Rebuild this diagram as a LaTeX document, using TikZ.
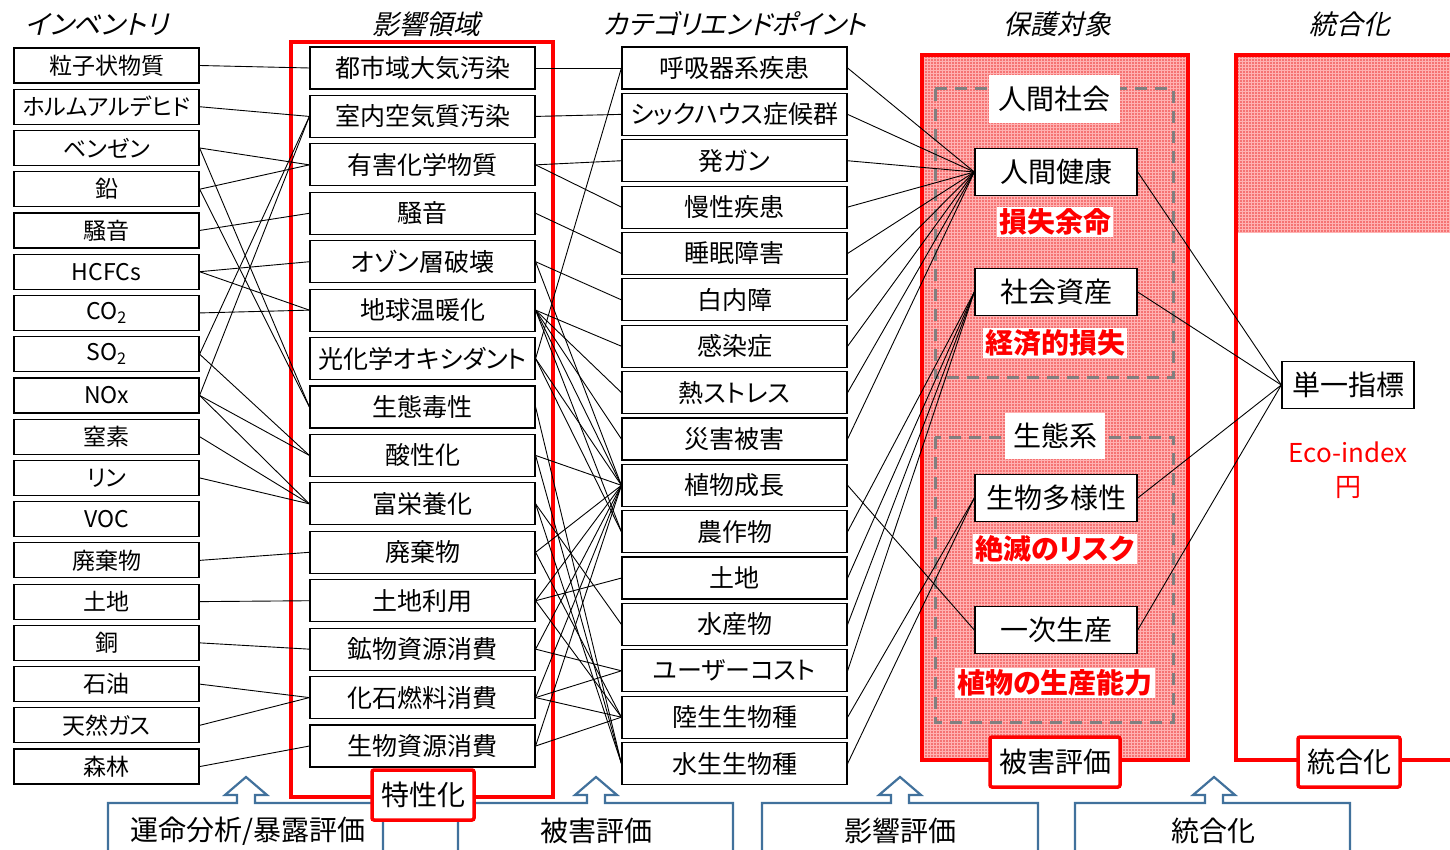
\documentclass[tikz,border=0pt]{standalone}
\usepackage{fontspec}
\setmainfont{Noto Sans CJK JP}[RawFeature=+palt]
\newfontfamily\jpit{Noto Sans CJK JP}[FakeSlant=0.22,RawFeature=+palt]
\usetikzlibrary{patterns}
\definecolor{frred}{RGB}{255,0,0}
\definecolor{blueline}{RGB}{65,113,156}
\definecolor{grpgray}{RGB}{128,128,128}
\definecolor{pinkfill}{RGB}{245,115,115}
\begin{document}
\begin{tikzpicture}[x=1pt,y=-1pt]
\tikzset{
 invbox/.style={draw=black, line width=1.2pt, fill=white, minimum width=185pt, minimum height=35pt, inner sep=0pt, font=\fontsize{23}{25}\selectfont},
 impbox/.style={draw=black, line width=1.2pt, fill=white, minimum width=225pt, minimum height=42pt, inner sep=0pt, font=\fontsize{25}{27}\selectfont},
 protbox/.style={draw=black, line width=1.4pt, fill=white, minimum width=162pt, minimum height=47pt, inner sep=0pt, font=\fontsize{28}{30}\selectfont},
 redlbl/.style={fill=white, text=frred, inner sep=2pt, font=\fontsize{28}{30}\selectfont\bfseries},
 grplbl/.style={fill=white, inner sep=0pt, font=\fontsize{28}{30}\selectfont},
 frlbl/.style={draw=frred, line width=3.5pt, fill=white, rounded corners=2pt, inner sep=0pt, minimum height=50pt, font=\fontsize{28}{30}\selectfont},
 conn/.style={line width=0.9pt, black},
 coltitle/.style={font=\jpit\fontsize{27}{29}\selectfont},
 grpbox/.style={draw=grpgray, line width=3pt, dash pattern=on 12pt off 8pt},
 blueshape/.style={draw=blueline, line width=2.2pt, fill=white},
 bluetext/.style={font=\fontsize{28}{30}\selectfont},
 frame/.style={draw=frred, line width=4pt},
}
\useasboundingbox (0,0) rectangle (1450,850);
\clip (0,0) rectangle (1450,850);
\fill[white] (0,0) rectangle (1450,850);

% titles
\node[coltitle] (t1) at (97,24) {インベントリ};
\node[coltitle] (t2) at (426,24) {影響領域};
\node[coltitle] (t3) at (735,24) {カテゴリエンドポイント};
\node[coltitle] (t4) at (1057,24) {保護対象};
\node[coltitle] (t5) at (1350,24) {統合化};

% frames
\draw[frame] (291,42) rectangle (553,797);
\fill[pinkfill] (922,55) rectangle (1188,760);
\fill[pattern=grid, pattern color=white!70!red] (922,55) rectangle (1188,760);
\draw[frame] (922,55) rectangle (1188,760);
\fill[pinkfill] (1236,55) rectangle (1460,233);
\fill[pattern=grid, pattern color=white!70!red] (1236,55) rectangle (1460,233);
\draw[frame] (1460,55) -- (1236,55) -- (1236,760) -- (1460,760);

% group boxes
\draw[grpbox] (935,89) rectangle (1173,377);
\draw[grpbox] (935,437) rectangle (1173,722);
\node[grplbl, minimum width=131pt, minimum height=48pt] (g1) at (1054,99) {人間社会};
\node[grplbl, minimum width=100pt, minimum height=46pt] (g2) at (1055,436) {生態系};

% inventory
\foreach \t [count=\i] in {粒子状物質,ホルムアルデヒド,ベンゼン,鉛,騒音,HCFCs,{CO\textsubscript{2}},{SO\textsubscript{2}},NOx,窒素,リン,VOC,廃棄物,土地,銅,石油,天然ガス,森林}
  \node[invbox] (v\i) at (106.5,{65.5+41.24*(\i-1)}) {\t};

% impact categories
\foreach \t [count=\i] in {都市域大気汚染,室内空気質汚染,有害化学物質,騒音,オゾン層破壊,地球温暖化,光化学オキシダント,生態毒性,酸性化,富栄養化,廃棄物,土地利用,鉱物資源消費,化石燃料消費,生物資源消費}
  \node[impbox] (i\i) at (422.5,{68+48.43*(\i-1)}) {\t};

% category endpoints
\foreach \t [count=\i] in {呼吸器系疾患,シックハウス症候群,発ガン,慢性疾患,睡眠障害,白内障,感染症,熱ストレス,災害被害,植物成長,農作物,土地,水産物,ユーザーコスト,陸生生物種,水生生物種}
  \node[impbox] (e\i) at (734.5,{68+46.37*(\i-1)}) {\t};

% protection targets
\node[protbox] (pH) at (1056,172) {人間健康};
\node[protbox] (pS) at (1056,292) {社会資産};
\node[protbox] (pB) at (1056,498) {生物多様性};
\node[protbox] (pP) at (1056,630) {一次生産};
\node[redlbl] (r1) at (1055,222) {損失余命};
\node[redlbl] (r2) at (1055,343) {経済的損失};
\node[redlbl] (r3) at (1055,549) {絶滅のリスク};
\node[redlbl] (r4) at (1055,683) {植物の生産能力};

% single index
\node[protbox, minimum width=132pt] (si) at (1348,385) {単一指標};
\node[text=frred, font=\fontsize{26}{28}\selectfont] (eco) at (1348,452) {Eco-index};
\node[text=frred, font=\fontsize{26}{28}\selectfont] (yen) at (1348,488) {円};

% connectors inventory -> impact
\foreach \a/\b in {1/1,2/2,3/3,3/8,4/3,4/8,5/4,6/5,6/6,7/6,8/2,8/9,9/2,9/9,9/10,10/10,11/10,13/11,14/12,15/13,16/14,17/14,18/15}
  \draw[conn] (v\a.east) -- (i\b.west);

% connectors impact -> endpoint
\foreach \a/\b in {1/1,2/2,3/3,3/4,4/5,5/6,5/10,6/7,6/8,6/9,6/10,6/11,7/1,7/10,7/11,8/16,9/10,9/16,10/13,10/16,11/10,11/15,12/10,12/12,12/15,13/10,13/14,14/10,14/14,14/15,15/10,15/15}
  \draw[conn] (i\a.east) -- (e\b.west);

% connectors endpoint -> protection
\foreach \a in {1,...,9} \draw[conn] (e\a.east) -- (pH.west);
\draw[conn] (e10.east) -- (pP.west);
\foreach \a in {11,...,14} \draw[conn] (e\a.east) -- (pS.west);
\foreach \a in {15,16} \draw[conn] (e\a.east) -- (pB.west);

% protection -> single index
\foreach \p in {pH,pS,pB,pP} \draw[conn] (\p.east) -- (si.west);

% bottom blue callouts
\foreach \L/\R/\ax in {108/383/246, 458/733/596, 762/1038/900, 1075/1350/1214}
  \draw[blueshape] (\L,862) -- (\L,803) -- (\ax-9,803) -- (\ax-9,795) -- (\ax-21,795) -- (\ax,777) -- (\ax+21,795) -- (\ax+9,795) -- (\ax+9,803) -- (\R,803) -- (\R,862);
\node[bluetext] (b1) at (248,831) {運命分析/暴露評価};
\node[bluetext] (b2) at (596,831) {被害評価};
\node[bluetext] (b3) at (900,831) {影響評価};
\node[bluetext] (b4) at (1213,831) {統合化};

% frame labels
\node[frlbl, minimum width=102pt] (l1) at (423,795) {特性化};
\node[frlbl, minimum width=130pt] (l2) at (1055,762) {被害評価};
\node[frlbl, minimum width=102pt] (l3) at (1349,762) {統合化};
\end{tikzpicture}
\end{document}
